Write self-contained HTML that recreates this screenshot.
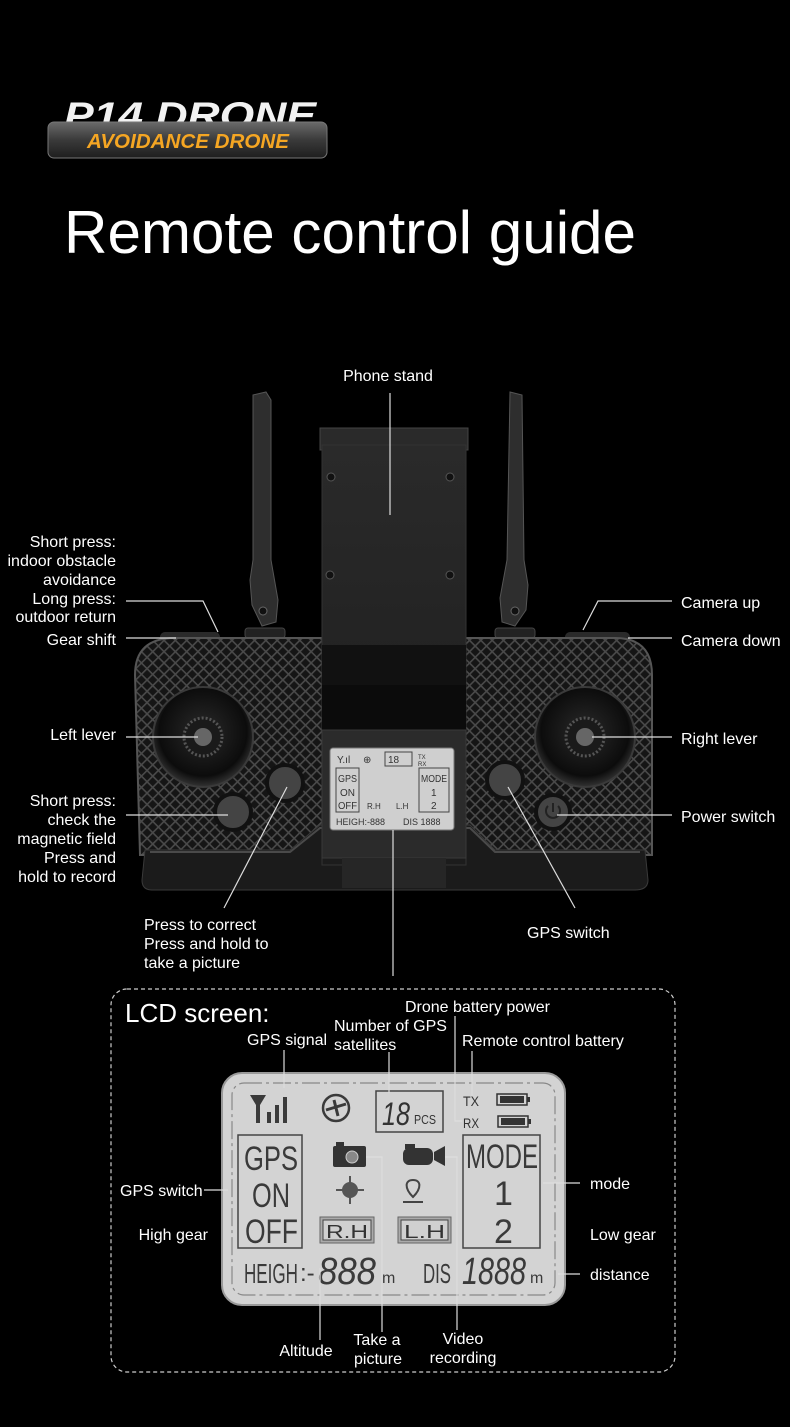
<!DOCTYPE html>
<html><head><meta charset="utf-8">
<style>
html,body{margin:0;padding:0;background:#000;}
svg{display:block;}
text{font-family:"Liberation Sans",sans-serif;}
</style></head>
<body>
<svg width="790" height="1427" viewBox="0 0 790 1427" xmlns="http://www.w3.org/2000/svg">
<defs>
<pattern id="hatch" width="8" height="8" patternUnits="userSpaceOnUse" patternTransform="rotate(45)">
<rect width="8" height="8" fill="#151515"/>
<rect width="8" height="1.6" fill="#4a4a4a"/>
<rect width="1.6" height="8" fill="#4a4a4a"/>
</pattern>
<linearGradient id="badge" x1="0" y1="0" x2="0" y2="1">
<stop offset="0" stop-color="#6a6a6a"/><stop offset="0.5" stop-color="#3a3a3a"/><stop offset="1" stop-color="#1e1e1e"/>
</linearGradient>
<radialGradient id="stick" cx="0.5" cy="0.45" r="0.55">
<stop offset="0" stop-color="#2a2a2a"/><stop offset="0.8" stop-color="#0c0c0c"/><stop offset="1" stop-color="#333"/>
</radialGradient>
<linearGradient id="plate" x1="0" y1="0" x2="0" y2="1">
<stop offset="0" stop-color="#2a2a2a"/><stop offset="1" stop-color="#1c1c1c"/>
</linearGradient>
</defs>
<rect width="790" height="1427" fill="#000"/>

<!-- Title -->
<text x="64" y="128" font-size="37" font-weight="bold" font-style="italic" fill="#f2f2f2" textLength="252" lengthAdjust="spacingAndGlyphs">P14 DRONE</text>
<rect x="48" y="122" width="279" height="36" rx="6" fill="url(#badge)" stroke="#777" stroke-width="1"/>
<text x="87" y="148" font-size="20" font-weight="bold" font-style="italic" fill="#f5a623" textLength="202" lengthAdjust="spacingAndGlyphs">AVOIDANCE DRONE</text>
<text x="64" y="253" font-size="60" fill="#fff" textLength="572" lengthAdjust="spacingAndGlyphs">Remote control guide</text>

<!-- Antennas -->
<path d="M253 395 L266 392 L271 400 L271 560 L278 600 L276 622 L262 626 L252 605 L250 580 L253 560 Z" fill="#2e2e2e" stroke="#555" stroke-width="1"/>
<path d="M510 392 L522 395 L524 560 L528 585 L526 610 L515 626 L502 622 L500 598 L507 560 Z" fill="#2e2e2e" stroke="#555" stroke-width="1"/>
<rect x="245" y="628" width="40" height="10" rx="3" fill="#222" stroke="#444"/>
<rect x="495" y="628" width="40" height="10" rx="3" fill="#222" stroke="#444"/>
<circle cx="263" cy="611" r="4" fill="#111" stroke="#666"/>
<circle cx="515" cy="611" r="4" fill="#111" stroke="#666"/>

<!-- Shoulder buttons -->
<rect x="160" y="632" width="60" height="12" rx="5" fill="#2a2a2a"/>
<rect x="565" y="632" width="65" height="12" rx="5" fill="#2a2a2a"/>

<!-- Body -->
<path d="M175 638 L615 638 Q652 638 652 675 L652 855 L140 855 L135 675 Q135 638 175 638 Z" fill="url(#hatch)" stroke="#555" stroke-width="2"/>
<path d="M145 850 L290 850 L320 825 L470 825 L495 850 L645 850 L648 880 Q648 890 635 890 L152 890 Q142 890 142 880 Z" fill="#1b1b1b" stroke="#3a3a3a"/>
<path d="M150 852 L290 852 L320 828 L470 828 L495 852 L640 852" fill="none" stroke="#4a4a4a" stroke-width="2"/>

<!-- Phone stand -->
<rect x="320" y="428" width="148" height="22" fill="#2a2a2a" stroke="#444"/>
<rect x="322" y="445" width="144" height="420" fill="url(#plate)" stroke="#333"/>
<rect x="322" y="645" width="144" height="40" fill="#111"/>
<rect x="322" y="685" width="144" height="45" fill="#0b0b0b"/>
<rect x="322" y="730" width="144" height="128" fill="#2b2b2b" stroke="#3a3a3a"/>
<rect x="342" y="858" width="104" height="30" fill="#262626"/>
<g fill="#111" stroke="#555"><circle cx="331" cy="477" r="4"/><circle cx="450" cy="477" r="4"/><circle cx="330" cy="575" r="4"/><circle cx="450" cy="575" r="4"/></g>

<!-- Sticks -->
<circle cx="203" cy="737" r="50" fill="url(#stick)" stroke="#3a3a3a" stroke-width="2"/>
<circle cx="203" cy="737" r="19" fill="#1a1a1a" stroke="#555" stroke-width="3" stroke-dasharray="2 2"/>
<circle cx="203" cy="737" r="9" fill="#666"/>
<circle cx="585" cy="737" r="50" fill="url(#stick)" stroke="#3a3a3a" stroke-width="2"/>
<circle cx="585" cy="737" r="19" fill="#1a1a1a" stroke="#555" stroke-width="3" stroke-dasharray="2 2"/>
<circle cx="585" cy="737" r="9" fill="#666"/>

<!-- Buttons -->
<g stroke="#111" stroke-width="4" fill="#444">
<circle cx="285" cy="783" r="18"/><circle cx="233" cy="812" r="18"/>
<circle cx="505" cy="780" r="18"/><circle cx="553" cy="812" r="17"/>
</g>
<path d="M548 806 A7 7 0 1 0 558 806" fill="none" stroke="#222" stroke-width="2"/>
<line x1="553" y1="803" x2="553" y2="812" stroke="#222" stroke-width="2"/>

<!-- Small LCD -->
<rect x="330" y="748" width="124" height="82" rx="3" fill="#cfcfcf" stroke="#777"/>
<g font-size="10" fill="#333">
<text x="337" y="763">Y.ıl</text><text x="363" y="763">⊕</text>
<rect x="385" y="752" width="27" height="14" fill="none" stroke="#444"/><text x="388" y="763">18</text>
<text x="418" y="759" font-size="6">TX</text><text x="418" y="766" font-size="6">RX</text>
<rect x="336" y="768" width="23" height="44" fill="none" stroke="#444"/>
<text x="338" y="782" textLength="19" lengthAdjust="spacingAndGlyphs">GPS</text>
<text x="340" y="796">ON</text><text x="338" y="809" textLength="19" lengthAdjust="spacingAndGlyphs">OFF</text>
<rect x="419" y="768" width="30" height="44" fill="none" stroke="#444"/>
<text x="421" y="782" textLength="26" lengthAdjust="spacingAndGlyphs">MODE</text>
<text x="431" y="796">1</text><text x="431" y="809">2</text>
<text x="336" y="825" font-size="9">HEIGH:-888</text><text x="403" y="825" font-size="9">DIS 1888</text>
<text x="367" y="809" font-size="8">R.H</text><text x="396" y="809" font-size="8">L.H</text>
</g>

<!-- Upper callout lines -->
<g stroke="#ddd" stroke-width="1.2" fill="none">
<line x1="390" y1="393" x2="390" y2="515"/>
<polyline points="126,601 203,601 218,632"/>
<line x1="126" y1="638" x2="176" y2="638"/>
<line x1="126" y1="737" x2="198" y2="737"/>
<line x1="126" y1="815" x2="228" y2="815"/>
<line x1="224" y1="908" x2="287" y2="787"/>
<line x1="575" y1="908" x2="508" y2="787"/>
<polyline points="672,601 598,601 583,630"/>
<line x1="672" y1="638" x2="628" y2="638"/>
<line x1="672" y1="737" x2="592" y2="737"/>
<line x1="672" y1="815" x2="557" y2="815"/>
<line x1="393" y1="830" x2="393" y2="976"/>
</g>

<!-- Upper labels -->
<g font-size="16" fill="#fff">
<text x="388" y="381" text-anchor="middle">Phone stand</text>
<g text-anchor="end">
<text x="116" y="547">Short press:</text>
<text x="116" y="566">indoor obstacle</text>
<text x="116" y="585">avoidance</text>
<text x="116" y="604">Long press:</text>
<text x="116" y="622">outdoor return</text>
<text x="116" y="645">Gear shift</text>
<text x="116" y="740">Left lever</text>
<text x="116" y="806">Short press:</text>
<text x="116" y="825">check the</text>
<text x="116" y="844">magnetic field</text>
<text x="116" y="863">Press and</text>
<text x="116" y="882">hold to record</text>
</g>
<text x="144" y="930">Press to correct</text>
<text x="144" y="949">Press and hold to</text>
<text x="144" y="968">take a picture</text>
<text x="527" y="938">GPS switch</text>
<text x="681" y="608">Camera up</text>
<text x="681" y="646">Camera down</text>
<text x="681" y="744">Right lever</text>
<text x="681" y="822">Power switch</text>
</g>

<!-- LCD dashed box -->
<rect x="111" y="989" width="564" height="383" rx="16" fill="none" stroke="#ccc" stroke-width="1.2" stroke-dasharray="4 3"/>
<text x="125" y="1022" font-size="26" fill="#fff">LCD screen:</text>

<!-- Big LCD -->
<rect x="222" y="1073" width="343" height="232" rx="20" fill="#d3d3d3" stroke="#999" stroke-width="2"/>
<rect x="232" y="1083" width="323" height="212" rx="12" fill="none" stroke="#888" stroke-width="1.2" stroke-dasharray="18 4 3 4"/>
<g fill="#3a3a3a">
<!-- signal -->
<path d="M250 1095 L266 1095 L260 1105 L260 1123 L256 1123 L256 1105 Z"/>
<rect x="267" y="1112" width="4" height="11"/><rect x="275" y="1105" width="4" height="18"/><rect x="283" y="1097" width="4" height="26"/>
</g>
<circle cx="336" cy="1108" r="13" fill="none" stroke="#3a3a3a" stroke-width="2.5"/>
<path d="M326 1110 L346 1104 M334 1100 L338 1116" stroke="#3a3a3a" stroke-width="3"/>
<rect x="376" y="1091" width="67" height="41" fill="none" stroke="#444" stroke-width="1.5"/>
<text x="382" y="1125" font-size="32" font-style="italic" fill="#333" textLength="28" lengthAdjust="spacingAndGlyphs">18</text>
<text x="414" y="1124" font-size="13" fill="#333" textLength="22" lengthAdjust="spacingAndGlyphs">PCS</text>
<text x="463" y="1106" font-size="14" fill="#333" textLength="16" lengthAdjust="spacingAndGlyphs">TX</text>
<text x="463" y="1128" font-size="14" fill="#333" textLength="16" lengthAdjust="spacingAndGlyphs">RX</text>
<g fill="none" stroke="#333" stroke-width="1.5">
<rect x="497" y="1094" width="30" height="11"/><rect x="498" y="1116" width="30" height="11"/>
</g>
<g fill="#333">
<rect x="527" y="1097" width="3" height="5"/><rect x="528" y="1119" width="3" height="5"/>
<rect x="500" y="1096" width="24" height="7"/><rect x="501" y="1118" width="24" height="7"/>
</g>
<rect x="238" y="1135" width="64" height="113" fill="none" stroke="#444" stroke-width="1.5"/>
<g font-size="34" fill="#3a3a3a">
<text x="244" y="1170" textLength="54" lengthAdjust="spacingAndGlyphs">GPS</text>
<text x="252" y="1207" textLength="38" lengthAdjust="spacingAndGlyphs">ON</text>
<text x="245" y="1243" textLength="53" lengthAdjust="spacingAndGlyphs">OFF</text>
</g>
<rect x="463" y="1135" width="77" height="113" fill="none" stroke="#444" stroke-width="1.5"/>
<g font-size="34" fill="#3a3a3a">
<text x="466" y="1168" textLength="72" lengthAdjust="spacingAndGlyphs">MODE</text>
<text x="494" y="1205">1</text>
<text x="494" y="1243">2</text>
</g>
<!-- camera -->
<rect x="333" y="1146" width="33" height="21" rx="2" fill="#333"/>
<rect x="336" y="1142" width="8" height="4" fill="#333"/>
<circle cx="352" cy="1157" r="6" fill="#888" stroke="#ccc" stroke-width="1"/>
<!-- video -->
<rect x="403" y="1148" width="30" height="17" rx="6" fill="#333"/>
<path d="M434 1152 L445 1146 L445 1166 L434 1160 Z" fill="#333"/>
<rect x="405" y="1144" width="10" height="5" fill="#333"/>
<!-- crosshair -->
<circle cx="350" cy="1190" r="8" fill="#555"/>
<path d="M336 1190 H364 M350 1176 V1204" stroke="#555" stroke-width="2"/>
<!-- pin -->
<path d="M413 1197 C404 1188 405 1180 413 1180 C421 1180 422 1188 413 1197 Z" fill="none" stroke="#444" stroke-width="2"/>
<line x1="403" y1="1202" x2="423" y2="1202" stroke="#444" stroke-width="2"/>
<rect x="320" y="1217" width="54" height="26" fill="#aaa" stroke="#666"/>
<rect x="323" y="1220" width="48" height="20" fill="#d0d0d0" stroke="#444"/>
<text x="326" y="1238" font-size="18" fill="#333" textLength="42" lengthAdjust="spacingAndGlyphs">R.H</text>
<rect x="398" y="1217" width="53" height="26" fill="#aaa" stroke="#666"/>
<rect x="401" y="1220" width="47" height="20" fill="#d0d0d0" stroke="#444"/>
<text x="404" y="1238" font-size="18" fill="#333" textLength="41" lengthAdjust="spacingAndGlyphs">L.H</text>
<text x="244" y="1283" font-size="28" fill="#3a3a3a" textLength="54" lengthAdjust="spacingAndGlyphs">HEIGH</text>
<text x="300" y="1281" font-size="24" fill="#3a3a3a">:-</text>
<text x="318" y="1284" font-size="38" font-style="italic" fill="#3a3a3a" textLength="58" lengthAdjust="spacingAndGlyphs">888</text>
<text x="382" y="1283" font-size="16" fill="#3a3a3a">m</text>
<text x="423" y="1283" font-size="28" fill="#3a3a3a" textLength="28" lengthAdjust="spacingAndGlyphs">DIS</text>
<text x="462" y="1284" font-size="38" font-style="italic" fill="#3a3a3a" textLength="64" lengthAdjust="spacingAndGlyphs">1888</text>
<text x="530" y="1283" font-size="16" fill="#3a3a3a">m</text>

<!-- LCD callout lines -->
<g stroke="#ddd" stroke-width="1.2" fill="none">
<line x1="284" y1="1050" x2="284" y2="1088"/>
<line x1="389" y1="1052" x2="389" y2="1093"/>
<polyline points="455,1016 455,1121 462,1121"/>
<line x1="472" y1="1051" x2="472" y2="1096"/>
<line x1="204" y1="1190" x2="228" y2="1190"/>
<line x1="543" y1="1183" x2="580" y2="1183"/>
<line x1="558" y1="1274" x2="580" y2="1274"/>
<line x1="320" y1="1268" x2="320" y2="1340"/>
<polyline points="366,1157 382,1157 382,1332"/>
<polyline points="445,1157 457,1157 457,1330"/>
</g>

<g font-size="16" fill="#fff">
<text x="247" y="1045">GPS signal</text>
<text x="334" y="1031">Number of GPS</text>
<text x="334" y="1050">satellites</text>
<text x="405" y="1012">Drone battery power</text>
<text x="462" y="1046">Remote control battery</text>
<text x="120" y="1196">GPS switch</text>
<text x="208" y="1240" text-anchor="end">High gear</text>
<text x="590" y="1189">mode</text>
<text x="590" y="1240">Low gear</text>
<text x="590" y="1280">distance</text>
<text x="306" y="1356" text-anchor="middle">Altitude</text>
<text x="377" y="1345" text-anchor="middle">Take a</text>
<text x="378" y="1364" text-anchor="middle">picture</text>
<text x="463" y="1344" text-anchor="middle">Video</text>
<text x="463" y="1363" text-anchor="middle">recording</text>
</g>
</svg>
</body></html>
